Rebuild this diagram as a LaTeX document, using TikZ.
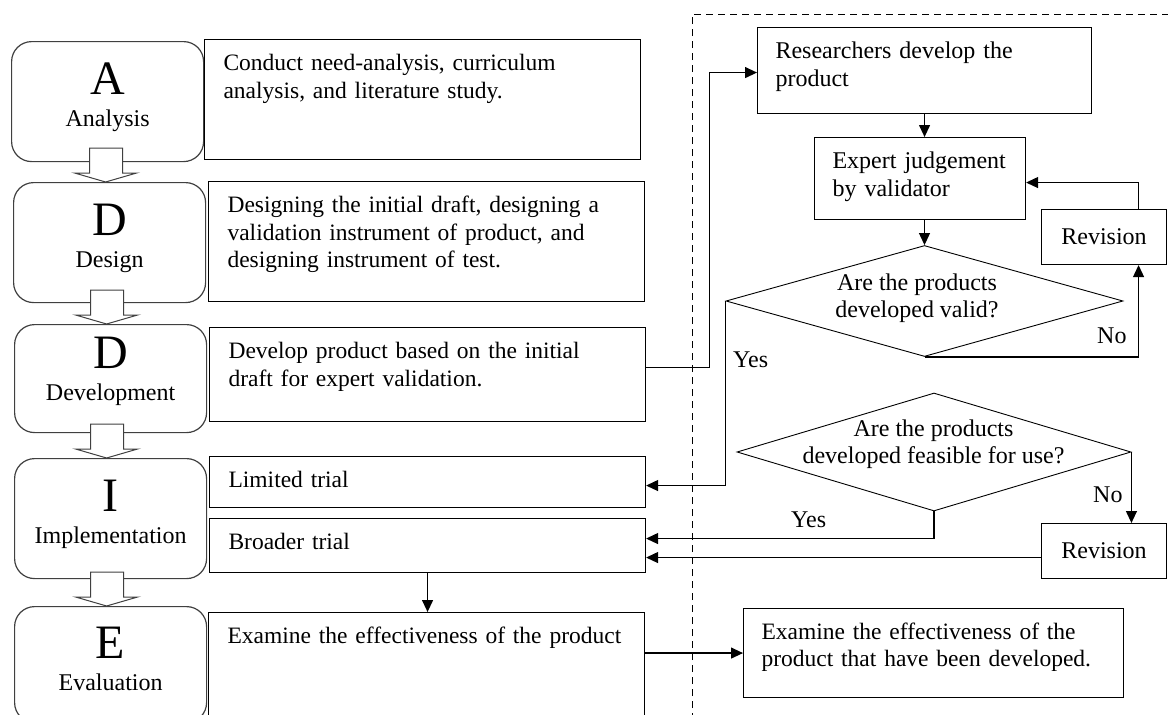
\documentclass[tikz,border=0pt]{standalone}
\usepackage{fontspec}
\setmainfont{Liberation Serif}
\usetikzlibrary{positioning}
\usetikzlibrary{arrows.meta}
\usetikzlibrary{shapes.geometric}
\usetikzlibrary{calc}

\newcommand{\phaseletter}[1]{{\fontsize{48pt}{48pt}\selectfont #1}}

\tikzset{
	phase/.style={draw=black!75, line width=1.2pt, rounded corners=20pt, anchor=north west,
		minimum width=192pt, inner sep=0pt, align=center, font=\fontsize{24pt}{27.5pt}\selectfont},
	task/.style={draw, line width=1.1pt, anchor=north west, align=left, inner xsep=19pt,
		inner ysep=14pt, text height=17pt, text width=398pt, font=\fontsize{23.5pt}{27.5pt}\selectfont},
	stepbox/.style={draw, line width=1.1pt, anchor=north west, align=left, inner xsep=18pt,
		inner ysep=14pt, text height=17pt, font=\fontsize{24pt}{27.5pt}\selectfont},
	revbox/.style={draw, line width=1.1pt, anchor=north west, minimum width=125pt,
		minimum height=55pt, font=\fontsize{24pt}{27.5pt}\selectfont},
	query/.style={draw, diamond, line width=0.9pt, inner sep=0pt},
	qtext/.style={align=center, inner sep=0pt, font=\fontsize{24pt}{27pt}\selectfont},
	tag/.style={anchor=base west, inner sep=0pt, font=\fontsize{24pt}{27pt}\selectfont},
	arr/.style={line width=1.2pt, -{Triangle[length=12pt,width=11pt]}},
	hollow/.style={draw=black!75, line width=1pt, fill=white},
}

\begin{document}
\begin{tikzpicture}[x=1pt, y=-1pt]
	\useasboundingbox (0,0) rectangle (1168,715);
	\clip (0,0) rectangle (1168,715);
	% ADDIE phases
	\node[phase, text height=85pt, text depth=35pt] (pA) at (11,41){\phaseletter{A}\\[5pt]Analysis};
	\node[phase, text height=85pt, text depth=35pt] (pD) at (13,182){\phaseletter{D}\\[5pt]Design};
	\node[phase, text height=76pt, text depth=32pt] (pDv) at (14,324){\phaseletter{D}\\[5pt]Development};
	\node[phase, text height=85pt, text depth=35pt] (pI) at (14,458){\phaseletter{I}\\[5pt]Implementation};
	\node[phase, text height=84pt, text depth=32pt] (pE) at (14,606){\phaseletter{E}\\[5pt]Evaluation};
	\foreach \l in {pD,pDv,pI,pE}
		\draw[hollow] ($(\l.north)+(-4,0)$) -- ++(-31,-9) -- ++(15,0) -- ++(0,-25) -- ++(33,0) -- ++(0,25) -- ++(14,0) -- cycle;
	%
	\node[task, text depth=75pt] (bA) at (204,39){Conduct need-analysis, curriculum\\analysis, and literature study.};
	\node[task, text depth=75pt] (bD) at (208,181){Designing the initial draft, designing a\\validation instrument of product, and\\designing instrument of test.};
	\node[task, text depth=49pt] (bDv) at (209,327){Develop product based on the initial\\draft for expert validation.};
	\node[task, text depth=6pt] (bL) at (209,456){Limited trial};
	\node[task, text depth=9pt] (bB) at (209,518){Broader trial};
	\node[task, text depth=65pt] (bE) at (208,612){\mbox{Examine the effectiveness of the product}};
	%
	\draw[line width=1pt, dash pattern=on 7pt off 5pt] (692,720) |- (1170,14);
	\node[stepbox, text width=298pt, text depth=41pt] (R) at (757,27){Researchers develop the\\product};
	\node[stepbox, text width=175pt, text depth=37pt] (X) at (814,137){Expert judgement\\by validator};
	\node[revbox] (V1) at (1041,209){Revision};
	\node[query, minimum width=397pt, minimum height=111pt] (Q1) at (924.5,301){};
	\node[qtext] (Q1t) at ([xshift=-7.5pt, yshift=3pt]Q1.center){Are the products\\developed valid?};
	\node[query, minimum width=394pt, minimum height=118pt] (Q2) at (934,452){};
	\node[qtext] (Q2t) at ([xshift=-0.5pt, yshift=7.5pt]Q2.center){Are the products\\developed feasible for use?};
	\node[revbox] (V2) at (1041,523){Revision};
	\node[stepbox, text width=344pt, text depth=44pt, font=\fontsize{23.5pt}{27pt}\selectfont] (ER) at (743,608){Examine the effectiveness of the\\product that have been developed.};
	%
	\node[tag] (no1) at (1097,343){No};
	\node[tag] (yes1) at (733,367){Yes};
	\node[tag] (yes2) at (791,527){Yes};
	\node[tag] (no2) at (1093,502){No};
	%
	\draw[arr] ([yshift=7pt]bDv.east) -- ++(63,0) |- ([yshift=-2pt]R.west);
	\draw[arr] (R.south) -- (R.south |- X.north);
	\draw[arr] (Q1.north |- X.south) -- (Q1.north);
	\draw[arr] (Q1.south) -| ([xshift=34.5pt]V1.south);
	\draw[arr] ([xshift=34.5pt]V1.north) |- ([yshift=-4pt]X.east);
	\draw[arr] (Q1.west) |- ([yshift=-3.5pt]bL.east);
	\draw[arr] (Q2.south) |- ([yshift=7pt]bB.east);
	\draw[arr] (Q2.east) -- (Q2.east |- V2.north);
	\draw[arr] ([yshift=-6.5pt]V2.west) -- ([yshift=-12pt]bB.east);
	\draw[arr] (bB.south) -- (bB.south |- bE.north);
	\draw[arr] (bE.east |- ER.west) -- (ER.west);
\end{tikzpicture}
\end{document}
